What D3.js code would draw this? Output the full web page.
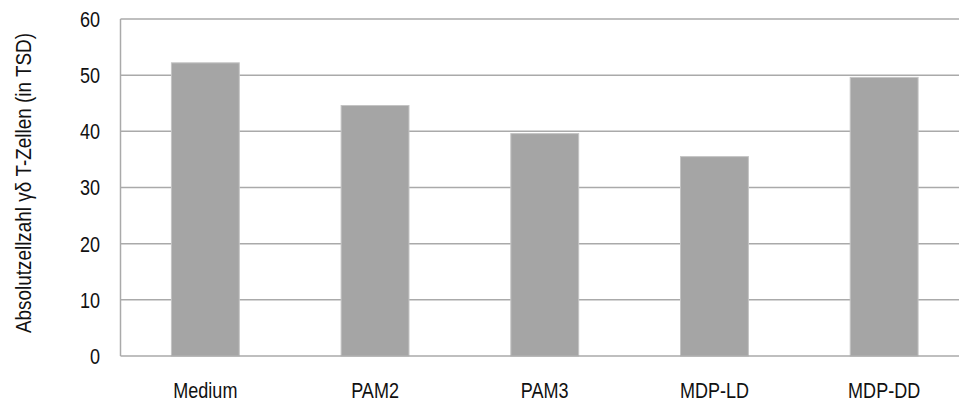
<!DOCTYPE html>
<html lang="de">
<head>
  <meta charset="UTF-8">
  <title>Absolutzellzahl gd T-Zellen</title>
  <script src="https://d3js.org/d3.v7.min.js"></script>
  <style>
    body { margin: 0; background: #fff; }
    text { font-family: "Liberation Sans", Arial, sans-serif; fill: #111; font-size: 22px; }
  </style>
</head>
<body>
  <div id="chart"></div>
  <script>
    // data
    const categories = ['Medium', 'PAM2', 'PAM3', 'MDP-LD', 'MDP-DD'];
    const values = [52.2, 44.6, 39.6, 35.5, 49.6];
    const yTicks = [0, 10, 20, 30, 40, 50, 60];

    const width = 959, height = 401;
    const margin = { top: 19, right: -10, bottom: 45, left: 120.5 };
    const narrow = 0.82; // squeeze text to look like a condensed face

    const svg = d3.select('#chart')
      .append('svg')
        .attr('width', width)
        .attr('height', height);

    const x = d3.scaleBand()
      .domain(categories)
      .range([margin.left, width - margin.right])
      .paddingInner(0.6)
      .paddingOuter(0.3);

    const y = d3.scaleLinear()
      .domain([0, 60])
      .range([height - margin.bottom, margin.top]);

    // gridlines
    svg.append('g')
      .selectAll('line')
      .data(yTicks.filter(d => d > 0))
      .join('line')
        .attr('x1', margin.left)
        .attr('x2', width)
        .attr('y1', d => y(d))
        .attr('y2', d => y(d))
        .style('stroke', '#aaaaaa')
        .style('stroke-width', 1.5);

    // bars
    svg.append('g')
      .selectAll('rect')
      .data(values)
      .join('rect')
        .attr('x', (d, i) => x(categories[i]))
        .attr('y', d => y(d))
        .attr('width', x.bandwidth())
        .attr('height', d => y(0) - y(d))
        .style('fill', '#a5a5a5')
        .style('stroke', '#c4c4c4')
        .style('stroke-width', 1);

    // axis lines
    svg.append('line')
      .attr('x1', margin.left).attr('x2', margin.left)
      .attr('y1', y(60)).attr('y2', y(0))
      .style('stroke', '#aaaaaa').style('stroke-width', 1.5);
    svg.append('line')
      .attr('x1', margin.left).attr('x2', width)
      .attr('y1', y(0)).attr('y2', y(0))
      .style('stroke', '#aaaaaa').style('stroke-width', 1.5);

    // y tick labels
    svg.append('g')
      .selectAll('text')
      .data(yTicks)
      .join('text')
        .attr('transform', d => `translate(100, ${y(d)}) scale(${narrow}, 1)`)
        .attr('dy', '0.36em')
        .attr('text-anchor', 'end')
        .text(d => d);

    // x labels
    svg.append('g')
      .selectAll('text')
      .data(categories)
      .join('text')
        .attr('transform', d => `translate(${x(d) + x.bandwidth() / 2}, 398) scale(${narrow}, 1)`)
        .attr('text-anchor', 'middle')
        .text(d => d);

    // y axis title
    svg.append('text')
      .attr('transform', 'translate(31, 183) rotate(-90) scale(0.86, 1)')
      .attr('text-anchor', 'middle')
      .text('Absolutzellzahl γδ T-Zellen (in TSD)');
  </script>
</body>
</html>
